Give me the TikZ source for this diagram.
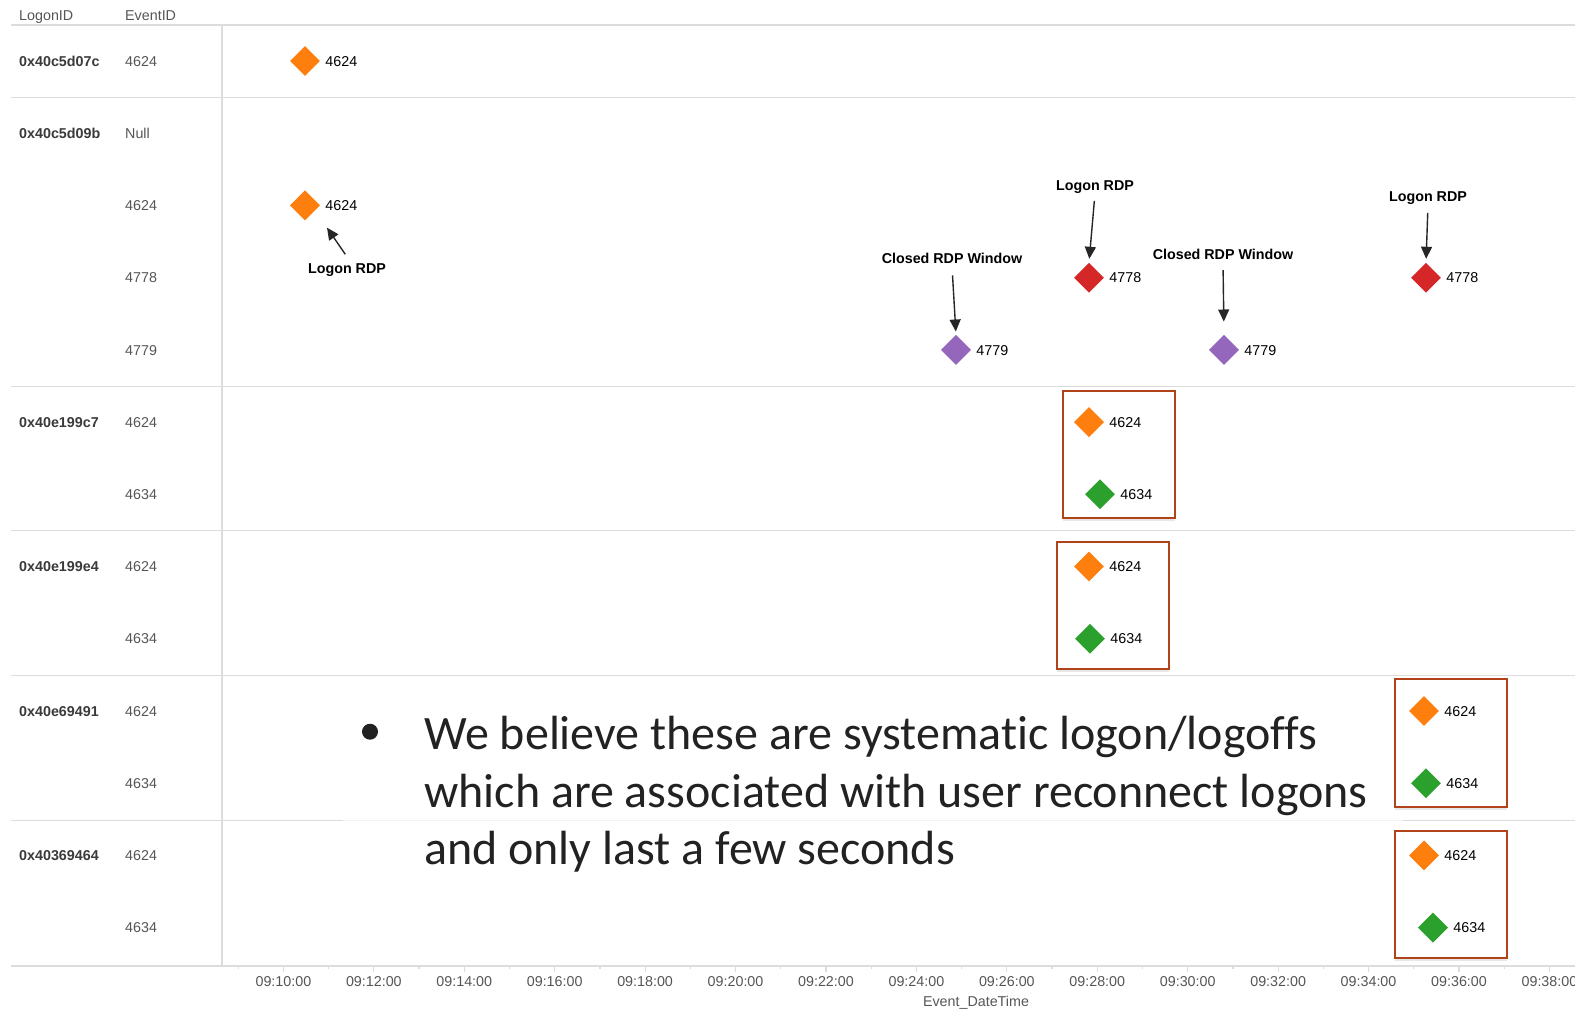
\documentclass[tikz,border=0pt]{standalone}
\usepackage{fontspec}
\setmainfont{Liberation Sans}
\newfontfamily\slidefont[Ligatures={NoCommon}]{Carlito}
\usetikzlibrary{shapes.geometric,arrows.meta,shadows}

\definecolor{gridgray}{HTML}{DCDCDC}
\definecolor{gridfaint}{HTML}{F2F2F2}
\definecolor{headgray}{HTML}{555555}
\definecolor{idgray}{HTML}{3A3A3A}
\definecolor{evorange}{HTML}{FF7F0E}
\definecolor{evred}{HTML}{D62728}
\definecolor{evpurple}{HTML}{9467BD}
\definecolor{evgreen}{HTML}{2CA02C}
\definecolor{boxrust}{HTML}{B0431A}
\definecolor{textdark}{HTML}{222222}

\begin{document}
\begin{tikzpicture}[x=1pt,y=-1pt,
  grid/.style={draw=gridgray, line width=1.5pt},
  txt/.style={inner sep=0pt, text height=13.2pt, text depth=3pt, font=\fontsize{14.3}{16}\selectfont},
  headlbl/.style={txt, anchor=west, text=headgray},
  logonlbl/.style={txt, anchor=west, text=idgray, font=\fontsize{14.3}{16}\selectfont\bfseries},
  eventlbl/.style={txt, anchor=west, text=headgray},
  axislbl/.style={txt, text=headgray},
  ptlbl/.style={txt, anchor=west, text=black},
  note/.style={txt, text=black, font=\fontsize{14.3}{16}\selectfont\bfseries},
  ev/.style={shape=diamond, shape aspect=1, inner sep=0pt, minimum width=30pt, minimum height=30pt, draw=none},
  evo/.style={ev, fill=evorange},
  evr/.style={ev, fill=evred},
  evp/.style={ev, fill=evpurple},
  evg/.style={ev, fill=evgreen},
  hlbox/.style={draw=boxrust, line width=2pt, fill=white, inner sep=0pt,
    drop shadow={shadow xshift=0pt, shadow yshift=-3pt, opacity=0.18}},
  arr/.style={draw=black!85, line width=1.4pt, -{Triangle[width=11pt,length=12pt]}},
  slide/.style={inner sep=0pt, anchor=base west, text=textdark, font=\slidefont\fontsize{48}{57.7}\selectfont}
]
\useasboundingbox (0,0) rectangle (1575,1009);
\clip (0,0) rectangle (1575,1009);

% ---- table grid ----
\draw[grid] (11,25) -- (1575,25);
\draw[grid] (222,25) -- (222,966);
\foreach \yy in {97.3,386.5,530.6,675.7}
  \draw[grid] (11,\yy) -- (1575,\yy);
\draw[grid] (11,820.5) -- (343,820.5);
\draw[draw=gridfaint, line width=1.5pt] (343,820.5) -- (1403,820.5);
\draw[grid] (1403,820.5) -- (1575,820.5);
\draw[grid] (11,966) -- (1575,966);

% ---- column headers ----
\node[headlbl] (hlogon) at (19,15) {LogonID};
\node[headlbl] (hevent) at (125,15) {EventID};

% ---- LogonID column ----
\node[logonlbl] (lid1) at (19,61)    {0x40c5d07c};
\node[logonlbl] (lid2) at (19,133.2) {0x40c5d09b};
\node[logonlbl] (lid3) at (19,422.1) {0x40e199c7};
\node[logonlbl] (lid4) at (19,566.5) {0x40e199e4};
\node[logonlbl] (lid5) at (19,711)   {0x40e69491};
\node[logonlbl] (lid6) at (19,855.4) {0x40369464};

% ---- EventID column ----
\foreach \yy/\ev [count=\i] in {61/4624,133.2/Null,205.4/4624,277.7/4778,349.9/4779,
    422.1/4624,494.3/4634,566.5/4624,638.8/4634,711/4624,783.2/4634,855.4/4624,927.6/4634}
  \node[eventlbl] (eid\i) at (125,\yy) {\ev};

% ---- time axis ----
\foreach \k in {0,...,14} {
  \pgfmathsetmacro\xx{283.4+90.43*\k}
  \pgfmathsetmacro\xm{\xx-45.2}
  \pgfmathtruncatemacro\mm{10+2*\k}
  \draw[draw=gridgray, line width=1.2pt] (\xx,966) -- (\xx,971.5);
  \draw[draw=gridgray, line width=1.2pt] (\xm,966) -- (\xm,968.5);
  \node[axislbl] (tk\k) at (\xx,981.7) {09:\mm:00};
}
\node[axislbl] (axtitle) at (976,1001.5) {Event\_DateTime};

% ---- highlight boxes ----
\node[hlbox, minimum width=112pt, minimum height=127pt] (box1) at (1119,454.5) {};
\node[hlbox, minimum width=112pt, minimum height=127pt] (box2) at (1113,605.5) {};
\node[hlbox, minimum width=112pt, minimum height=128pt] (box3) at (1451,743) {};
\node[hlbox, minimum width=112pt, minimum height=127pt] (box4) at (1451,894.5) {};

% ---- events ----
\node[evo] (d1)  at (305,61) {};
\node[evo] (d2)  at (305,205.4) {};
\node[evr] (r1)  at (1089,277.7) {};
\node[evr] (r2)  at (1426,277.7) {};
\node[evp] (p1)  at (956,349.9) {};
\node[evp] (p2)  at (1224,349.9) {};
\node[evo] (o3)  at (1089,422.1) {};
\node[evg] (g3)  at (1100,494.3) {};
\node[evo] (o4)  at (1089,566.5) {};
\node[evg] (g4)  at (1090,638.8) {};
\node[evo] (o5)  at (1424,711) {};
\node[evg] (g5)  at (1426,783.2) {};
\node[evo] (o6)  at (1424,855.4) {};
\node[evg] (g6)  at (1433,927.6) {};

\foreach \d/\t in {d1/4624,d2/4624,r1/4778,r2/4778,p1/4779,p2/4779,
    o3/4624,g3/4634,o4/4624,g4/4634,o5/4624,g5/4634,o6/4624,g6/4634}
  \node[ptlbl] (\d-lbl) at ([xshift=5pt]\d.east) {\t};

% ---- annotations ----
\node[note] (n1) at (347,268)   {Logon RDP};
\node[note] (n2) at (952,258)   {Closed RDP Window};
\node[note] (n3) at (1095,185)  {Logon RDP};
\node[note] (n4) at (1223,254)  {Closed RDP Window};
\node[note] (n5) at (1428,196.7){Logon RDP};

\draw[arr, shorten <=6.6pt, shorten >=27pt] ([xshift=2pt]n1.north) -- ([xshift=6.7pt]d2.center);
\draw[arr, shorten <=9pt,   shorten >=3.2pt] (n2.south) -- (p1.north);
\draw[arr, shorten <=7.6pt, shorten >=3.7pt] (n3.south) -- (r1.north);
\draw[arr, shorten <=7.9pt, shorten >=13.2pt] (n4.south) -- (p2.north);
\draw[arr, shorten <=7.9pt, shorten >=3.7pt] (n5.south) -- (r2.north);

% ---- slide text ----
\node[circle, fill=textdark, minimum size=16pt, inner sep=0pt] (bullet) at (370,731.7) {};
\node[slide] (line1) at (424,749.3) {We believe these are systematic logon/logoffs};
\node[slide] (line2) at (424,807.3) {which are associated with user reconnect logons};
\node[slide] (line3) at (424,864.3) {and only last a few seconds};
\end{tikzpicture}
\end{document}
